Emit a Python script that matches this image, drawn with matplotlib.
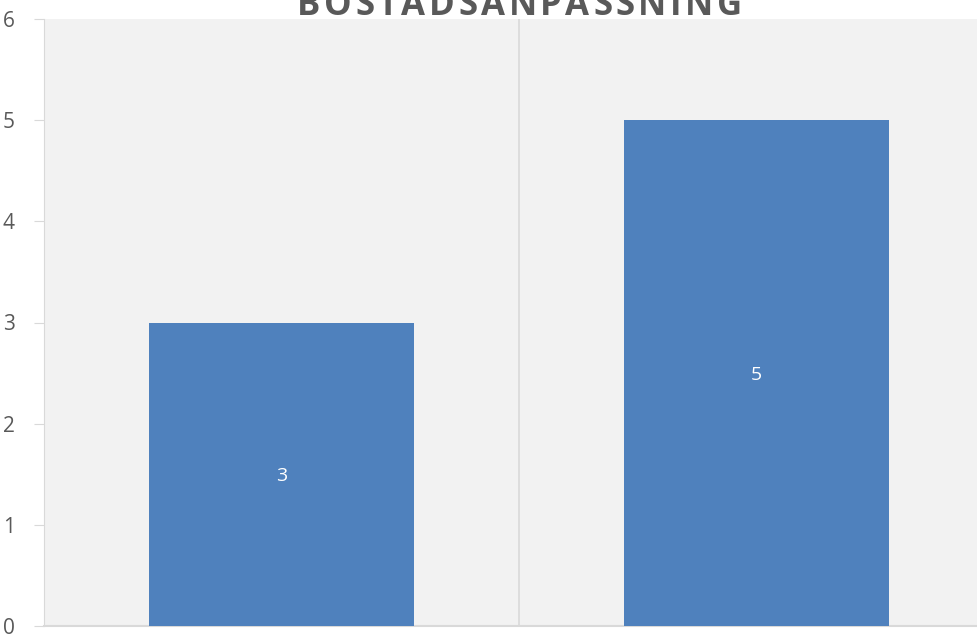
import matplotlib.pyplot as plt

categories = ["A", "B"]
values = [3, 5]
yticks = [0, 1, 2, 3, 4, 5, 6]
title = "BOSTADSANPASSNING"

W, H = 978, 634
fig = plt.figure(figsize=(W / 100, H / 100), dpi=100)
# axes runs past the right edge, as in the reference
ax = fig.add_axes([44 / W, (H - 626) / H, (994 - 44) / W, (626 - 19) / H])
ax.set_facecolor("#f2f2f2")

x = range(len(categories))
bars = ax.bar(x, values, width=0.558, color="#4f81bd", zorder=3)
for b, v in zip(bars, values):
    ax.text(b.get_x() + b.get_width() / 2, v / 2, str(v), ha="center", va="center_baseline",
            color="white", fontsize=14, family="Open Sans", zorder=4)

ax.set_xlim(-0.5, 1.5)
ax.set_ylim(0, 6)
ax.set_yticks(yticks)
ax.set_xticks([])
ax.axvline(0.5, color="#d9d9d9", lw=1.2, zorder=1)

for s in ["top", "right"]:
    ax.spines[s].set_visible(False)
ax.spines["left"].set_color("#d9d9d9")
ax.spines["bottom"].set_color("#d9d9d9")
ax.spines["bottom"].set_linewidth(1.5)
ax.tick_params(axis="y", length=7, color="#d9d9d9", labelcolor="#595959",
               labelsize=15, pad=14)
for lab in ax.get_yticklabels():
    lab.set_family("Open Sans")

# title with letter spacing, top part cut off like the reference
r = fig.canvas.get_renderer()
kw = dict(fontsize=25, fontweight="bold", color="#595959", family="Open Sans", va="baseline")
widths = []
for ch in title:
    t = fig.text(0, 0, ch, **kw)
    widths.append(t.get_window_extent(r).width)
    t.remove()
total = 445
gap = (total - sum(widths)) / (len(title) - 1)
px = 519.5 - total / 2
for ch, w in zip(title, widths):
    fig.text(px / W, 1 - 15 / H, ch, **kw)
    px += w + gap

fig.savefig("out.png", dpi=100)
